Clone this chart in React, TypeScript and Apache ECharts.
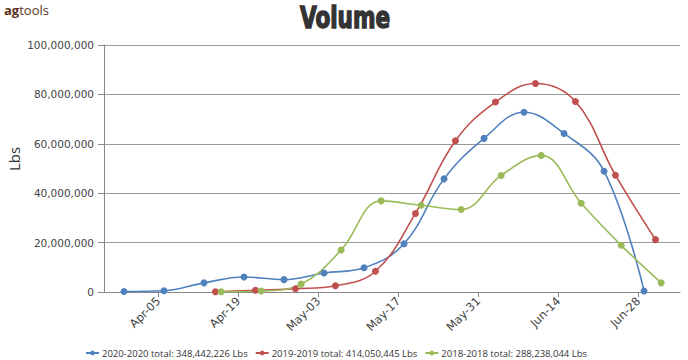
import React, { useEffect, useRef } from "react";
import * as echarts from "echarts";

const tickDates = ["2020-04-05", "2020-04-19", "2020-05-03", "2020-05-17", "2020-05-31", "2020-06-14", "2020-06-28"];
const monthNames = ["Jan", "Feb", "Mar", "Apr", "May", "Jun", "Jul", "Aug", "Sep", "Oct", "Nov", "Dec"];
const yTicks = [0, 20000000, 40000000, 60000000, 80000000, 100000000];

const seriesNames = [
  "2020-2020 total: 348,442,226 Lbs",
  "2019-2019 total: 414,050,445 Lbs",
  "2018-2018 total: 288,238,044 Lbs",
];
const seriesColors = ["#4F81BD", "#C0504D", "#9BBB59"];

const dates2020 = [
  "2020-03-30", "2020-04-06", "2020-04-13", "2020-04-20", "2020-04-27", "2020-05-04", "2020-05-11",
  "2020-05-18", "2020-05-25", "2020-06-01", "2020-06-08", "2020-06-15", "2020-06-22", "2020-06-29",
];
const values2020 = [
  200000, 500000, 3700000, 6100000, 5000000, 7700000, 9800000,
  19500000, 45800000, 62200000, 72800000, 64200000, 48900000, 400000,
];

const dates2019 = [
  "2020-04-15", "2020-04-22", "2020-04-29", "2020-05-06", "2020-05-13", "2020-05-20",
  "2020-05-27", "2020-06-03", "2020-06-10", "2020-06-17", "2020-06-24", "2020-07-01",
];
const values2019 = [
  100000, 700000, 1300000, 2500000, 8400000, 31800000,
  61200000, 76900000, 84400000, 77100000, 47300000, 21200000,
];

const dates2018 = [
  "2020-04-16", "2020-04-23", "2020-04-30", "2020-05-07", "2020-05-14", "2020-05-21",
  "2020-05-28", "2020-06-04", "2020-06-11", "2020-06-18", "2020-06-25", "2020-07-02",
];
const values2018 = [
  100000, 400000, 3200000, 17000000, 36900000, 35100000,
  33400000, 47200000, 55300000, 35900000, 18900000, 3700000,
];

const HOUR = 3600 * 1000;
const ts = (s: string) => {
  const [y, m, d] = s.split("-").map(Number);
  return Date.UTC(y, m - 1, d);
};
const xMin = ts("2020-03-26") + 12 * HOUR;
const xMax = ts("2020-07-05") + 7 * HOUR;

const fmtDate = (v: number) => {
  const d = new Date(v);
  const day = d.getUTCDate();
  return monthNames[d.getUTCMonth()] + "-" + (day < 10 ? "0" + day : String(day));
};

export default function App() {
  const ref = useRef<HTMLDivElement>(null);
  useEffect(() => {
    if (!ref.current) return;
    const chart = echarts.init(ref.current, undefined, { renderer: "svg" });
    const allDates = [dates2020, dates2019, dates2018];
    const allValues = [values2020, values2019, values2018];
    const tickVals = tickDates.map(ts);
    chart.setOption({
      animation: false,
      backgroundColor: "#ffffff",
      graphic: [
        {
          type: "text",
          left: 4,
          top: 3,
          style: {
            text: "{a|ag}{b|tools}",
            rich: {
              a: { fontFamily: "Open Sans", fontSize: 13, fontWeight: "bold", fill: "#5a3320" },
              b: { fontFamily: "Open Sans", fontSize: 13, fill: "#5a3320" },
            },
          },
        },
        {
          type: "text",
          x: 300,
          y: 18,
          scaleX: 0.8,
          style: {
            text: "Volume",
            fontFamily: "DejaVu Sans Condensed",
            fontWeight: "bold",
            fontSize: 30,
            fill: "#333333",
            stroke: "#333333",
            lineWidth: 1.4,
            align: "left",
            verticalAlign: "middle",
          },
        },
        {
          type: "text",
          x: 13.5,
          y: 159,
          rotation: Math.PI / 2,
          style: {
            text: "Lbs",
            fontFamily: "Open Sans",
            fontSize: 15,
            fill: "#333333",
            align: "center",
            verticalAlign: "middle",
          },
        },
      ],
      legend: {
        left: 80,
        top: 343,
        itemWidth: 13,
        itemHeight: 6,
        itemGap: 7,
        textStyle: { fontFamily: "Open Sans", fontSize: 9.5, color: "#333333", padding: [0, 0, 0, -2] },
        data: seriesNames,
      },
      grid: { left: 104, right: 8, top: 45, bottom: 68 },
      xAxis: {
        type: "value",
        min: xMin,
        max: xMax,
        axisLine: { show: true, lineStyle: { color: "#888888" } },
        axisTick: { show: true, length: 5, lineStyle: { color: "#888888" }, customValues: tickVals },
        splitLine: { show: false },
        axisLabel: {
          customValues: tickVals,
          rotate: 45,
          margin: 7,
          fontFamily: "DejaVu Sans",
          fontSize: 11.5,
          color: "#444444",
          formatter: (v: number) => fmtDate(v),
        },
      },
      yAxis: {
        type: "value",
        min: yTicks[0],
        max: yTicks[yTicks.length - 1],
        interval: yTicks[1] - yTicks[0],
        axisLine: { show: true, lineStyle: { color: "#888888" } },
        axisTick: { show: true, length: 6, lineStyle: { color: "#888888" } },
        splitLine: { show: true, lineStyle: { color: "#999999", width: 1 } },
        axisLabel: {
          margin: 10,
          fontFamily: "DejaVu Sans",
          fontSize: 10.5,
          color: "#444444",
          formatter: (v: number) => v.toLocaleString("en-US"),
        },
      },
      series: seriesNames.map((name, i) => ({
        name,
        type: "line",
        smooth: 0.4,
        symbol: "circle",
        symbolSize: 7,
        color: seriesColors[i],
        lineStyle: { width: 1.6, color: seriesColors[i] },
        itemStyle: { color: seriesColors[i] },
        data: allDates[i].map((d, j) => [ts(d), allValues[i][j]]),
      })),
    });
    return () => chart.dispose();
  }, []);
  return <div ref={ref} style={{ width: 688, height: 360, position: "absolute", left: 0, top: 0 }} />;
}
